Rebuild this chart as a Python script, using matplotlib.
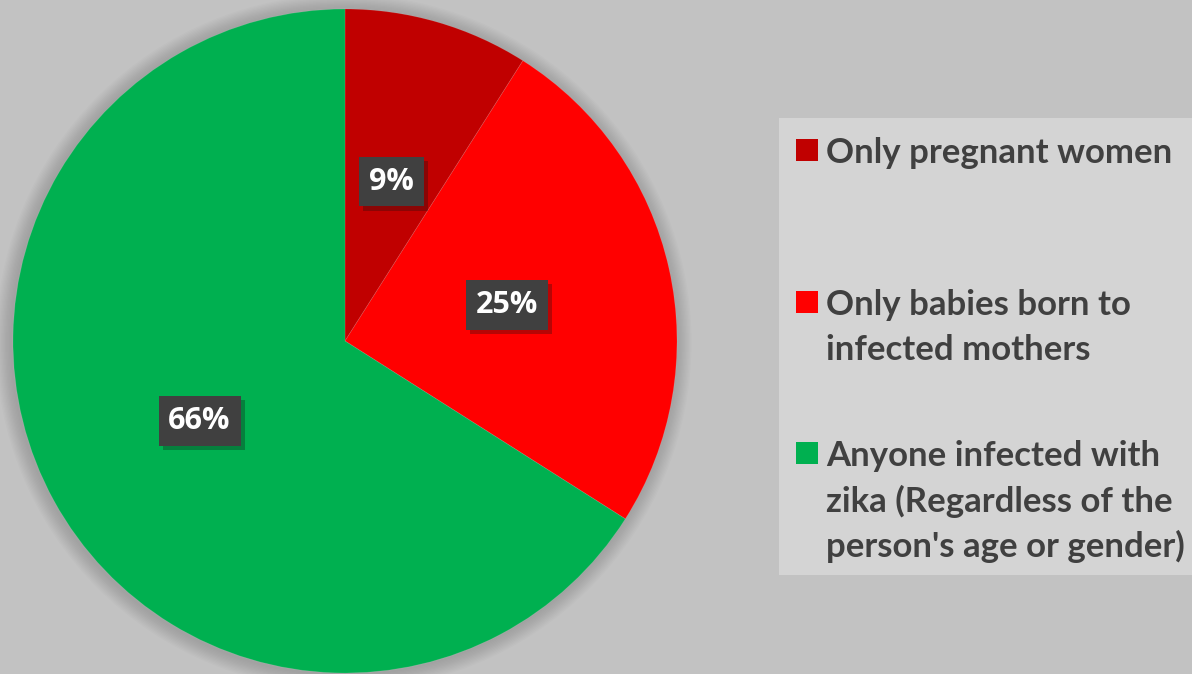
import matplotlib.pyplot as plt
from matplotlib.patches import Circle, Rectangle
import matplotlib.patheffects as pe

labels = ["Only pregnant women",
          "Only babies born to\ninfected mothers",
          "Anyone infected with\nzika (Regardless of the\nperson's age or gender)"]
values = [9, 25, 66]
colors = ["#C00000", "#FF0000", "#00B050"]

W, H = 1192, 674
fig = plt.figure(figsize=(W / 100, H / 100), dpi=100)
fig.patch.set_facecolor("#c2c2c2")

# pie axes: centre (345, 341) px, radius 332 px
cx, cy, r = 345, 341, 332
ax = fig.add_axes([(cx - r) / W, (H - cy - r) / H, 2 * r / W, 2 * r / H])

wedges, texts, autotexts = ax.pie(
    values, colors=colors, startangle=90, counterclock=False,
    radius=1, autopct="%d%%", pctdistance=0.5,
    wedgeprops=dict(linewidth=0.6, edgecolor=(1, 1, 1, 0.12)),
    textprops=dict(color="white", fontsize=22, fontweight="bold",
                   family="Open Sans"))
for w in wedges:
    w.set_zorder(2)
for t in autotexts:
    t.set_bbox(dict(boxstyle="square,pad=0.32", facecolor="#404040",
                    edgecolor="none",
                    path_effects=[pe.SimplePatchShadow(offset=(3, -3),
                                                       alpha=0.3),
                                  pe.Normal()]))
    t.set_zorder(5)

ax.set_xlim(-1, 1)
ax.set_ylim(-1, 1)
ax.set_aspect("equal")
ax.axis("off")

# soft shadow around the pie
for i in range(12):
    rr = 1.0 + 0.004 * (12 - i)
    ax.add_patch(Circle((-0.004, -0.004), rr, color="black", alpha=0.012,
                        lw=0, clip_on=False, zorder=0))

# legend box
lx0, ly0, lx1, ly1 = 779, 118, 1200, 575
fig.patches.append(Rectangle((lx0 / W, 1 - ly1 / H), (lx1 - lx0) / W,
                             (ly1 - ly0) / H, transform=fig.transFigure,
                             facecolor="#d4d4d4", edgecolor="none"))

entry_y = [150, 302, 453]
line_gap = 45
for lab, col, y in zip(labels, colors, entry_y):
    fig.patches.append(Rectangle((796 / W, 1 - (y + 11) / H), 22 / W, 22 / H,
                                 transform=fig.transFigure, facecolor=col,
                                 edgecolor="none"))
    for k, line in enumerate(lab.split("\n")):
        fig.text(826 / W, 1 - (y + k * line_gap) / H, line,
                 fontsize=25, fontweight="bold", family="Lato",
                 color="#404040", ha="left", va="center_baseline")

fig.savefig("out.png", dpi=100, facecolor=fig.get_facecolor())
